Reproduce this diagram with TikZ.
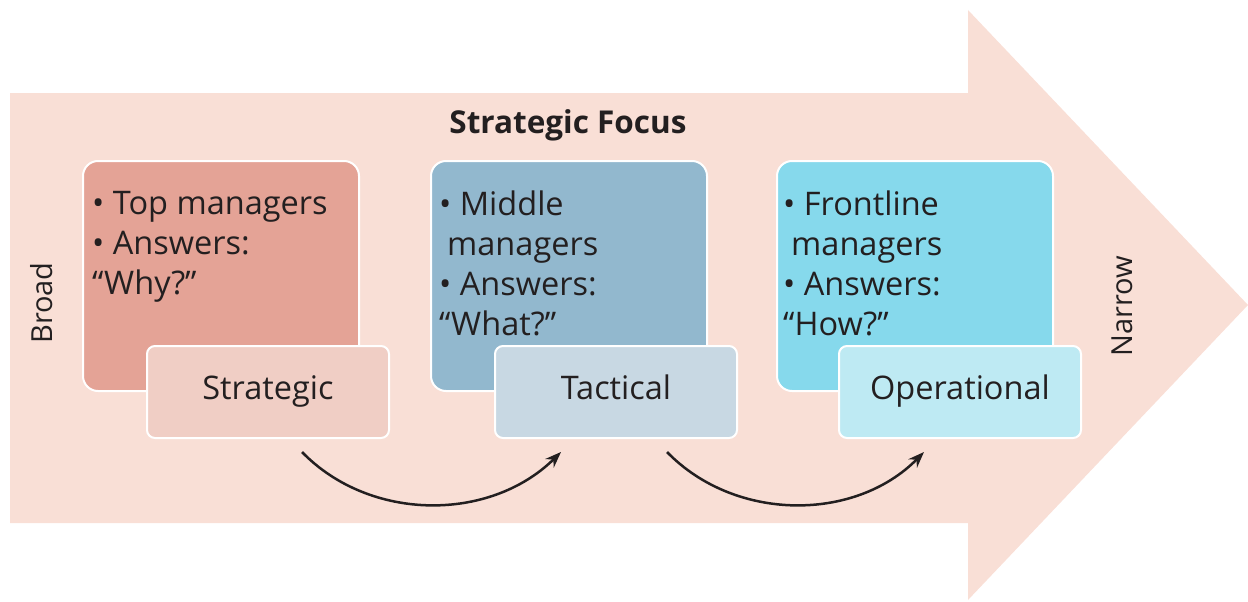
\documentclass[tikz,border=0pt]{standalone}
\usepackage{fontspec}
\setmainfont{Open Sans}
\usetikzlibrary{arrows.meta}
\definecolor{bgarrow}{HTML}{F9DFD6}
\definecolor{boxA}{HTML}{E4A396}
\definecolor{lblA}{HTML}{F0CEC5}
\definecolor{boxB}{HTML}{92B8CE}
\definecolor{lblB}{HTML}{C8D8E3}
\definecolor{boxC}{HTML}{86D9EC}
\definecolor{lblC}{HTML}{BEEAF3}
\definecolor{ink}{HTML}{231F20}
\tikzset{
  mainbox/.style={draw=white, line width=2pt, rounded corners=15pt, minimum width=276pt, minimum height=230pt, anchor=north west, inner sep=0pt},
  lblbox/.style={draw=white, line width=2pt, rounded corners=8pt, minimum width=242pt, minimum height=92pt, anchor=north west, inner sep=0pt, text height=24pt, text depth=9pt, text=ink, font=\fontsize{32.5}{38}\selectfont},
  boxtext/.style={anchor=north west, align=left, inner sep=0pt, text=ink, font=\fontsize{32.5}{40}\selectfont},
  sidetext/.style={rotate=90, text=ink, font=\fontsize{29}{34}\selectfont},
  flow/.style={line width=2.5pt, ink, -{Stealth[length=16pt,width=12pt]}}
}
\begin{document}
\begin{tikzpicture}[x=1pt,y=-1pt]
\useasboundingbox (0,0) rectangle (1248,602);
% big arrow
\fill[bgarrow] (10,93) -- (968,93) -- (968,10) -- (1248,305) -- (968,600) -- (968,523) -- (10,523) -- cycle;
\node[text=ink, font=\fontsize{31.5}{36}\selectfont\bfseries] (title) at (568,125) {Strategic Focus};
\node[sidetext] (broad) at (42,303) {Broad};
\node[sidetext] (narrow) at (1122,306) {Narrow};
% boxes
\node[mainbox, fill=boxA] (b1) at (82,160) {};
\node[mainbox, fill=boxB] (b2) at (430,160) {};
\node[mainbox, fill=boxC] (b3) at (776,160) {};
\node[boxtext] (t1) at (92,191) {• Top managers\\• Answers:\\“Why?”};
\node[boxtext] (t2) at (439,191) {• Middle\\\hspace*{8pt}managers\\• Answers:\\“What?”};
\node[boxtext] (t3) at (783,191) {• Frontline\\\hspace*{8pt}managers\\• Answers:\\“How?”};
\node[lblbox, fill=lblA] (l1) at (146,345) {Strategic};
\node[lblbox, fill=lblB] (l2) at (494,345) {Tactical};
\node[lblbox, fill=lblC] (l3) at (838,345) {Operational};
% flow arrows
\coordinate (s1) at (302,452);
\coordinate (e1) at (561,452);
\coordinate (s2) at (667,452);
\coordinate (e2) at (924,452);
\draw[flow] (s1) .. controls (370,522) and (490,522) .. (e1);
\draw[flow] (s2) .. controls (735,522) and (855,522) .. (e2);
\end{tikzpicture}
\end{document}
